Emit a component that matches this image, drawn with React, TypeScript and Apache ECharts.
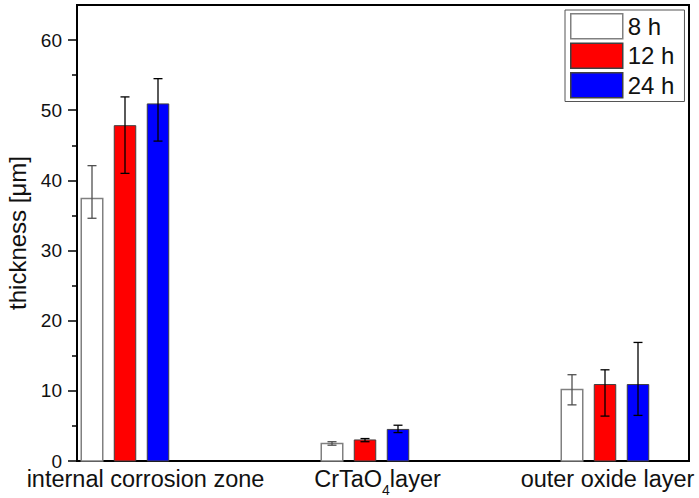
import React, { useEffect, useRef } from 'react';
import * as echarts from 'echarts';

const categories = ['internal corrosion zone', 'CrTaO4layer', 'outer oxide layer'];
const catPositions = [1, 2, 3];
const seriesNames = ['8 h', '12 h', '24 h'];

const values8 = [37.4, 2.5, 10.2];
const low8 = [34.6, 2.25, 8.0];
const high8 = [42.1, 2.75, 12.3];

const values12 = [47.8, 3.0, 10.9];
const low12 = [41.0, 2.75, 6.4];
const high12 = [51.9, 3.2, 13.0];

const values24 = [50.9, 4.5, 10.9];
const low24 = [45.6, 4.05, 6.5];
const high24 = [54.5, 5.1, 16.9];

const yTicks = [0, 10, 20, 30, 40, 50, 60];
const yMinorTicks = [5, 15, 25, 35, 45, 55];

const FONT = 'Liberation Sans, Arial, sans-serif';
const BAR_W = 21.5;
const BAR_STEP = 33;
const CAP = 9;
const CAT_FS = 23.5;

const styles = [
  { fill: '#ffffff', stroke: '#808080', lw: 1.5, err: '#505050' },
  { fill: '#ff0000', stroke: '#404040', lw: 1, err: '#000000' },
  { fill: '#0000ff', stroke: '#404040', lw: 1, err: '#000000' },
];

function makeData(v: number[], lo: number[], hi: number[]) {
  return catPositions.map((x, i) => [x, v[i], lo[i], hi[i]]);
}

const seriesData = [
  makeData(values8, low8, high8),
  makeData(values12, low12, high12),
  makeData(values24, low24, high24),
];

function renderItemFor(sIdx: number) {
  return (params: any, api: any) => {
    const x = api.value(0);
    const v = api.value(1);
    const lo = api.value(2);
    const hi = api.value(3);
    const base = api.coord([x, 0]);
    const top = api.coord([x, v]);
    const pLo = api.coord([x, lo]);
    const pHi = api.coord([x, hi]);
    const cx = base[0] + (sIdx - 1) * BAR_STEP;
    const st = styles[sIdx];
    return {
      type: 'group',
      children: [
        {
          type: 'rect',
          shape: { x: cx - BAR_W / 2, y: top[1], width: BAR_W, height: base[1] - top[1] },
          style: { fill: st.fill, stroke: st.stroke, lineWidth: st.lw },
        },
        {
          type: 'line',
          shape: { x1: cx, y1: pHi[1], x2: cx, y2: pLo[1] },
          style: { stroke: st.err, lineWidth: 1.3 },
        },
        {
          type: 'line',
          shape: { x1: cx - CAP / 2, y1: pHi[1], x2: cx + CAP / 2, y2: pHi[1] },
          style: { stroke: st.err, lineWidth: 1.3 },
        },
        {
          type: 'line',
          shape: { x1: cx - CAP / 2, y1: pLo[1], x2: cx + CAP / 2, y2: pLo[1] },
          style: { stroke: st.err, lineWidth: 1.3 },
        },
      ],
    };
  };
}

const labelPads = [41, 25, 5];

export default function App() {
  const ref = useRef<HTMLDivElement>(null);
  useEffect(() => {
    if (!ref.current) return;
    const chart = echarts.init(ref.current, null, { renderer: 'svg' });
    const catStyle = (pad: number) => ({
      fontSize: CAT_FS,
      lineHeight: 24,
      verticalAlign: 'top',
      padding: [0, 0, 0, pad],
      fontFamily: FONT,
      color: '#111',
    });
    const option: any = {
      animation: false,
      backgroundColor: '#ffffff',
      textStyle: { fontFamily: FONT, color: '#111' },
      grid: {
        left: 77,
        right: 10,
        top: 5,
        bottom: 37,
        containLabel: false,
        outerBoundsMode: 'none',
        show: true,
        borderColor: '#000',
        borderWidth: 2,
        backgroundColor: 'transparent',
      },
      legend: {
        orient: 'vertical',
        left: 565,
        top: 10,
        icon: 'rect',
        itemWidth: 52,
        itemHeight: 25,
        itemGap: 3,
        padding: [3, 10, 3, 5],
        borderColor: '#555',
        borderWidth: 1,
        textStyle: { fontSize: 24, fontFamily: FONT, color: '#111' },
        data: seriesNames.map((n, i) => ({
          name: n,
          itemStyle: { color: styles[i].fill, borderColor: styles[i].stroke, borderWidth: 1.5 },
        })),
      },
      xAxis: {
        type: 'value',
        min: 0.8,
        max: 3.35,
        splitLine: { show: false },
        axisTick: { show: false },
        axisLine: { show: true, lineStyle: { color: '#000', width: 2 } },
        axisLabel: {
          customValues: catPositions,
          margin: 6,
          fontSize: CAT_FS,
          color: '#111',
          fontFamily: FONT,
          formatter: (val: number) => {
            const i = catPositions.indexOf(Math.round(val));
            if (i < 0) return '';
            const name = categories[i];
            const m = name.match(/^(CrTaO)(4)(.*)$/);
            if (m) return `{c${i}|${m[1]}}{sub|${m[2]}}{n|${m[3]}}`;
            return `{c${i}|${name}}`;
          },
          rich: {
            c0: catStyle(labelPads[0]),
            c1: catStyle(labelPads[1]),
            c2: catStyle(labelPads[2]),
            n: catStyle(0),
            sub: {
              fontSize: 14,
              lineHeight: 14,
              padding: [15.5, 0, 0, 0],
              verticalAlign: 'top',
              fontFamily: FONT,
              color: '#111',
            },
          },
        },
      },
      yAxis: [
        {
          type: 'value',
          min: 0,
          max: 65,
          position: 'left',
          name: 'thickness [μm]',
          nameLocation: 'middle',
          nameGap: 38,
          nameTextStyle: { fontSize: 24, fontFamily: FONT, color: '#111' },
          splitLine: { show: false },
          axisLine: { show: true, lineStyle: { color: '#000', width: 2 } },
          axisTick: {
            show: true,
            customValues: yTicks,
            length: 9,
            inside: false,
            lineStyle: { color: '#000', width: 1.5 },
          },
          axisLabel: {
            customValues: yTicks,
            margin: 15,
            fontSize: 19,
            lineHeight: 12,
            color: '#111',
            fontFamily: FONT,
          },
        },
        {
          type: 'value',
          min: 0,
          max: 65,
          position: 'left',
          splitLine: { show: false },
          axisLine: { show: false },
          axisLabel: { show: false },
          axisTick: {
            show: true,
            customValues: yMinorTicks,
            length: 5,
            inside: false,
            lineStyle: { color: '#000', width: 1.5 },
          },
        },
      ],
      series: seriesNames.map((n, i) => ({
        name: n,
        type: 'custom',
        xAxisIndex: 0,
        yAxisIndex: 0,
        renderItem: renderItemFor(i),
        encode: { x: 0, y: [1, 2, 3] },
        itemStyle: { color: styles[i].fill, borderColor: styles[i].stroke },
        data: seriesData[i],
      })),
    };
    chart.setOption(option);
    return () => chart.dispose();
  }, []);
  return (
    <div
      ref={ref}
      style={{ position: 'fixed', left: 0, top: 0, width: 699, height: 498 }}
    />
  );
}
